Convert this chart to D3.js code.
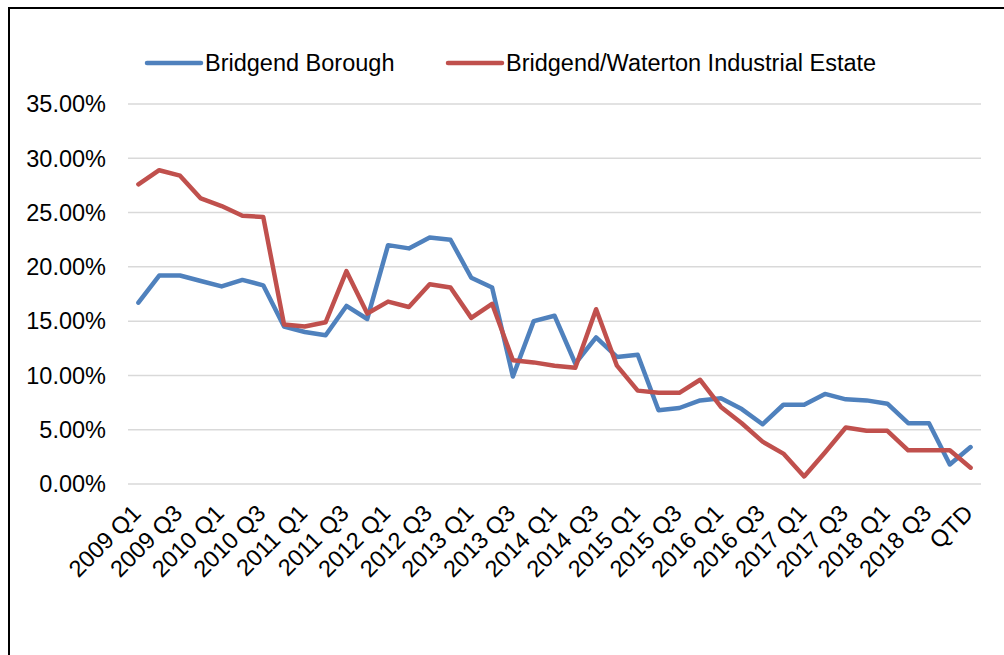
<!DOCTYPE html>
<html lang="en">
<head>
    <meta charset="UTF-8">
    <title>Vacancy rate</title>
    <script src="https://d3js.org/d3.v7.min.js"></script>
    <style>
        body {
            margin: 0;
            font-family: 'Liberation Sans', Arial, sans-serif;
            background: #fff;
        }
        .grid line {
            stroke: #d9d9d9;
            stroke-width: 1.5px;
        }
        .series {
            fill: none;
            stroke-width: 4.5px;
            stroke-linejoin: round;
            stroke-linecap: round;
        }
        text {
            fill: #000;
            font-size: 23.5px;
        }
    </style>
</head>
<body>
<svg id="chart" width="1004" height="655"></svg>
<script>
    // quarters 2009 Q1 .. 2018 Q4, then quarter-to-date
    const quarters = [];
    for (let y = 2009; y <= 2018; y++) {
        for (let q = 1; q <= 4; q++) quarters.push(y + " Q" + q);
    }
    quarters.push("QTD");

    // vacancy rates (%)
    const bridgendBorough = [
        16.7, 19.2, 19.2, 18.7, 18.2, 18.8, 18.3, 14.5, 14.0, 13.7,
        16.4, 15.2, 22.0, 21.7, 22.7, 22.5, 19.0, 18.1, 9.9, 15.0,
        15.5, 11.1, 13.5, 11.7, 11.9, 6.8, 7.0, 7.7, 7.9, 6.9,
        5.5, 7.3, 7.3, 8.3, 7.8, 7.7, 7.4, 5.6, 5.6, 1.8,
        3.4
    ];
    const waterton = [
        27.6, 28.9, 28.4, 26.3, 25.6, 24.7, 24.6, 14.7, 14.5, 14.9,
        19.6, 15.7, 16.8, 16.3, 18.4, 18.1, 15.3, 16.6, 11.4, 11.2,
        10.9, 10.7, 16.1, 10.9, 8.6, 8.4, 8.4, 9.6, 7.1, 5.6,
        3.9, 2.8, 0.7, 2.9, 5.2, 4.9, 4.9, 3.1, 3.1, 3.1,
        1.5
    ];
    const yTicks = [0, 5, 10, 15, 20, 25, 30, 35];
    const seriesNames = ["Bridgend Borough", "Bridgend/Waterton Industrial Estate"];
    const colors = ["#4f81bd", "#c0504d"];

    const svg = d3.select("#chart");

    // outer frame (top and left edges are visible)
    svg.append("path")
        .attr("d", "M9,655V8H1004")
        .attr("fill", "none")
        .attr("stroke", "#000")
        .attr("stroke-width", 2);

    const plot = { left: 128, right: 981, top: 104, bottom: 484 };

    const x = d3.scalePoint()
        .domain(quarters)
        .range([plot.left, plot.right])
        .padding(0.5);

    const y = d3.scaleLinear()
        .domain([0, 35])
        .range([plot.bottom, plot.top]);

    // gridlines
    svg.append("g")
        .attr("class", "grid")
        .selectAll("line")
        .data(yTicks)
        .join("line")
        .attr("x1", plot.left)
        .attr("x2", plot.right)
        .attr("y1", d => y(d))
        .attr("y2", d => y(d));

    // y labels
    svg.append("g")
        .selectAll("text")
        .data(yTicks)
        .join("text")
        .attr("x", 106)
        .attr("y", d => y(d))
        .attr("dy", "0.35em")
        .attr("text-anchor", "end")
        .text(d => d.toFixed(2) + "%");

    // x labels, every other quarter, rotated
    svg.append("g")
        .selectAll("text")
        .data(quarters.filter((d, i) => i % 2 === 0))
        .join("text")
        .attr("text-anchor", "end")
        .attr("dy", "0.71em")
        .attr("transform", d => `translate(${x(d) - 8},${plot.bottom + 19}) rotate(-45)`)
        .text(d => d);

    // lines
    const line = d3.line()
        .x((d, i) => x(quarters[i]))
        .y(d => y(d));

    [bridgendBorough, waterton].forEach((vals, k) => {
        svg.append("path")
            .datum(vals)
            .attr("class", "series")
            .attr("stroke", colors[k])
            .attr("d", line);
    });

    // legend
    const legendX = [147, 448];
    const legend = svg.append("g");
    seriesNames.forEach((name, k) => {
        legend.append("line")
            .attr("x1", legendX[k])
            .attr("x2", legendX[k] + 54)
            .attr("y1", 63)
            .attr("y2", 63)
            .attr("stroke", colors[k])
            .attr("stroke-width", 4.5)
            .attr("stroke-linecap", "round");
        legend.append("text")
            .attr("x", legendX[k] + 58)
            .attr("y", 63)
            .attr("dy", "0.35em")
            .text(name);
    });
</script>
</body>
</html>
